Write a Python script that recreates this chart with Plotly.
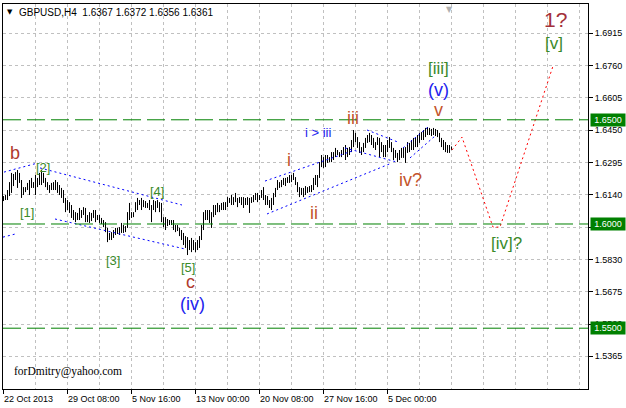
import plotly.graph_objects as go

# ---------------- data ----------------
highs = [
    1.6134, 1.6139, 1.6163, 1.6201, 1.6245, 1.6240, 1.6249, 1.6259, 1.6245, 1.6211,
    1.6177, 1.6177, 1.6197, 1.6211, 1.6221, 1.6201, 1.6235, 1.6221, 1.6245, 1.6259,
    1.6245, 1.6221, 1.6201, 1.6187, 1.6197, 1.6201, 1.6211, 1.6201, 1.6187, 1.6173,
    1.6163, 1.6125, 1.6115, 1.6105, 1.6091, 1.6067, 1.6057, 1.6053, 1.6077, 1.6067,
    1.6081, 1.6077, 1.6043, 1.6057, 1.6053, 1.6067, 1.6067, 1.6043, 1.6043, 1.6029,
    1.6019, 1.6009, 1.5981, 1.5957, 1.5961, 1.5971, 1.5981, 1.5981, 1.5985, 1.6005,
    1.5995, 1.5990, 1.6057, 1.6101, 1.6057, 1.6057, 1.6105, 1.6125, 1.6115, 1.6125,
    1.6115, 1.6110, 1.6101, 1.6115, 1.6091, 1.6115, 1.6110, 1.6115, 1.6105, 1.6101,
    1.6033, 1.6033, 1.6024, 1.6019, 1.6019, 1.6019, 1.5995, 1.5995, 1.5981, 1.5971,
    1.5957, 1.5942, 1.5937, 1.5923, 1.5933, 1.5923, 1.5913, 1.5923, 1.5942, 1.5995,
    1.6057, 1.6067, 1.6067, 1.6067, 1.6057, 1.6091, 1.6091, 1.6101, 1.6091, 1.6101,
    1.6105, 1.6105, 1.6129, 1.6125, 1.6139, 1.6129, 1.6149, 1.6125, 1.6129, 1.6129,
    1.6129, 1.6125, 1.6129, 1.6125, 1.6129, 1.6139, 1.6149, 1.6149, 1.6139, 1.6163,
    1.6177, 1.6139, 1.6134, 1.6115, 1.6125, 1.6149, 1.6173, 1.6211, 1.6201, 1.6211,
    1.6221, 1.6221, 1.6225, 1.6235, 1.6235, 1.6245, 1.6225, 1.6201, 1.6177, 1.6173,
    1.6173, 1.6182, 1.6177, 1.6182, 1.6187, 1.6221, 1.6235, 1.6235, 1.6297, 1.6331,
    1.6321, 1.6331, 1.6331, 1.6321, 1.6345, 1.6345, 1.6365, 1.6355, 1.6345, 1.6355,
    1.6369, 1.6379, 1.6365, 1.6369, 1.6403, 1.6451, 1.6437, 1.6417, 1.6393, 1.6369,
    1.6389, 1.6413, 1.6427, 1.6437, 1.6427, 1.6413, 1.6393, 1.6417, 1.6413, 1.6393,
    1.6379, 1.6379, 1.6403, 1.6417, 1.6393, 1.6365, 1.6355, 1.6341, 1.6355, 1.6365,
    1.6365, 1.6369, 1.6393, 1.6389, 1.6403, 1.6413, 1.6413, 1.6427, 1.6437, 1.6441,
    1.6451, 1.6461, 1.6465, 1.6461, 1.6456, 1.6461, 1.6456, 1.6451, 1.6437, 1.6413,
    1.6403, 1.6393, 1.6379, 1.6379, 1.6372,
]
lows = [
    1.6110, 1.6115, 1.6115, 1.6134, 1.6149, 1.6182, 1.6211, 1.6173, 1.6197, 1.6125,
    1.6139, 1.6153, 1.6163, 1.6139, 1.6173, 1.6173, 1.6139, 1.6177, 1.6187, 1.6187,
    1.6197, 1.6177, 1.6163, 1.6149, 1.6163, 1.6163, 1.6163, 1.6149, 1.6139, 1.6125,
    1.6101, 1.6057, 1.6067, 1.6053, 1.6029, 1.6019, 1.6009, 1.6019, 1.6019, 1.6029,
    1.6043, 1.6009, 1.6009, 1.6005, 1.6014, 1.6029, 1.6009, 1.6019, 1.6005, 1.6000,
    1.5985, 1.5961, 1.5913, 1.5923, 1.5923, 1.5933, 1.5947, 1.5952, 1.5947, 1.5957,
    1.5957, 1.5961, 1.5981, 1.6019, 1.6029, 1.6033, 1.6057, 1.6067, 1.6091, 1.6067,
    1.6081, 1.6077, 1.6077, 1.6067, 1.6009, 1.6067, 1.6057, 1.6077, 1.6057, 1.6009,
    1.5985, 1.5971, 1.5990, 1.5995, 1.5995, 1.5971, 1.5961, 1.5966, 1.5942, 1.5923,
    1.5899, 1.5885, 1.5851, 1.5875, 1.5865, 1.5875, 1.5865, 1.5875, 1.5885, 1.5923,
    1.5971, 1.6019, 1.6019, 1.6005, 1.5981, 1.6033, 1.6043, 1.6057, 1.6057, 1.6067,
    1.6067, 1.6067, 1.6081, 1.6101, 1.6091, 1.6091, 1.6105, 1.6081, 1.6101, 1.6091,
    1.6077, 1.6091, 1.6091, 1.6053, 1.6101, 1.6105, 1.6115, 1.6105, 1.6115, 1.6125,
    1.6115, 1.6091, 1.6091, 1.6077, 1.6067, 1.6091, 1.6129, 1.6163, 1.6173, 1.6177,
    1.6187, 1.6182, 1.6197, 1.6197, 1.6201, 1.6211, 1.6187, 1.6153, 1.6129, 1.6139,
    1.6129, 1.6139, 1.6149, 1.6153, 1.6153, 1.6163, 1.6187, 1.6177, 1.6221, 1.6273,
    1.6269, 1.6273, 1.6293, 1.6297, 1.6297, 1.6307, 1.6321, 1.6331, 1.6321, 1.6321,
    1.6331, 1.6307, 1.6321, 1.6331, 1.6345, 1.6369, 1.6393, 1.6365, 1.6341, 1.6331,
    1.6345, 1.6365, 1.6389, 1.6393, 1.6379, 1.6365, 1.6355, 1.6379, 1.6321, 1.6345,
    1.6321, 1.6321, 1.6345, 1.6365, 1.6345, 1.6307, 1.6317, 1.6297, 1.6307, 1.6317,
    1.6317, 1.6293, 1.6341, 1.6345, 1.6355, 1.6355, 1.6369, 1.6369, 1.6389, 1.6403,
    1.6403, 1.6417, 1.6427, 1.6427, 1.6422, 1.6427, 1.6422, 1.6417, 1.6393, 1.6369,
    1.6355, 1.6345, 1.6341, 1.6341, 1.6356,
]

x_tick_bars = [0, 32, 64, 96, 128, 160, 192]
x_tick_labels = ["22 Oct 2013", "29 Oct 08:00", "5 Nov 16:00", "13 Nov 00:00",
                 "20 Nov 08:00", "27 Nov 16:00", "5 Dec 00:00"]
y_tick_values = [1.6915, 1.6760, 1.6605, 1.6450, 1.6295, 1.6140,
                 1.5985, 1.5830, 1.5675, 1.5520, 1.5365]
level_prices = [1.6500, 1.6000, 1.5500]

forecast_bars = [224.25, 229.25, 244.75, 248.25, 274.75]
forecast_prices = [1.6355, 1.6417, 1.5985, 1.5985, 1.6758]

trend_bars = [
    (0.25, 17.25), (18.25, 89.25), (-0.25, 6.75), (25.75, 90.75),
    (130.75, 174.25), (131.75, 194.25), (181.75, 197.25), (170.75, 196.75),
    (199.75, 212.25), (203.25, 215.75),
]
trend_prices = [
    (1.6249, 1.6293), (1.6269, 1.6091), (1.5937, 1.5954), (1.6024, 1.5880),
    (1.6206, 1.6350), (1.6048, 1.6293), (1.6451, 1.6393), (1.6365, 1.6297),
    (1.6365, 1.6465), (1.6317, 1.6422),
]

wave_labels = ["b", "[2]", "[1]", "[3]", "[4]", "[5]", "c", "(iv)", "i", "ii", "iii",
               "i > iii", "iv?", "v", "(v)", "[iii]", "1?", "[v]", "[iv]?"]
wave_bars = [5.75, 19.75, 11.75, 54.75, 76.75, 92.25, 93.25, 94.25, 142.75, 155.25,
             174.75, 157.25, 203.25, 217.25, 217.25, 217.25, 275.75, 275.25, 251.25]
wave_prices = [1.6341, 1.6273, 1.6057, 1.5827, 1.6158, 1.5789, 1.5721, 1.5616, 1.6307,
               1.6053, 1.6509, 1.6437, 1.6211, 1.6547, 1.6643, 1.6744, 1.6979, 1.6864, 1.5904]

# ---------------- styles ----------------
FONT = "Liberation Sans"
BROWN = "#b03a2e"
ORANGE = "#c4532b"
GREEN_T = "#3a8a2a"
BLUE = "#2222ee"
wave_colors = [BROWN, GREEN_T, GREEN_T, GREEN_T, GREEN_T, GREEN_T, BROWN, BLUE,
               ORANGE, ORANGE, ORANGE, BLUE, ORANGE, ORANGE, BLUE, GREEN_T, "#a3303a",
               GREEN_T, GREEN_T]
wave_sizes = [18, 13, 13, 13, 13, 13, 18, 18, 18, 18, 18, 13, 18, 18, 18, 17, 21, 17, 17]

fig = go.Figure()

# OHLC bars drawn as vertical high-low segments
bx, by = [], []
for i, (h, l) in enumerate(zip(highs, lows)):
    bx += [i, i, None]
    by += [l, h, None]
fig.add_trace(go.Scatter(x=bx, y=by, mode="lines", line=dict(color="black", width=1),
                         hoverinfo="skip"))

# blue dotted trend lines
for (xa, xb), (ya, yb) in zip(trend_bars, trend_prices):
    fig.add_trace(go.Scatter(x=[xa, xb], y=[ya, yb], mode="lines",
                             line=dict(color="#0000ff", width=1, dash="2px,3px"),
                             hoverinfo="skip"))

# red dotted forecast
fig.add_trace(go.Scatter(x=forecast_bars, y=forecast_prices, mode="lines",
                         line=dict(color="#ff0000", width=1, dash="2px,3px"),
                         hoverinfo="skip"))

# green horizontal levels
for lv in level_prices:
    fig.add_shape(type="line", xref="paper", x0=0, x1=1, yref="y", y0=lv, y1=lv,
                  line=dict(color="#008000", width=1, dash="18px,6px"), layer="above")
    fig.add_annotation(xref="paper", x=1, xanchor="left", xshift=2, yref="y", y=lv,
                       text=f"{lv:.4f}", showarrow=False, bgcolor="#008000",
                       font=dict(family=FONT, size=9, color="white"),
                       width=34, height=12, borderpad=0)

# wave labels
for t, xb, yp, c, s in zip(wave_labels, wave_bars, wave_prices, wave_colors, wave_sizes):
    fig.add_annotation(x=xb, y=yp, text=t, showarrow=False,
                       font=dict(family=FONT, size=s, color=c),
                       xanchor="center", yanchor="middle")

# x tick labels (left aligned, as in the terminal)
for xb, lab in zip(x_tick_bars, x_tick_labels):
    fig.add_annotation(x=xb, xref="x", y=0, yref="paper", text=lab, showarrow=False,
                       xanchor="left", yanchor="top", xshift=-2, yshift=-3,
                       font=dict(family=FONT, size=9, color="black"))

# title
fig.add_annotation(xref="paper", yref="paper", x=0, y=1, xanchor="left", yanchor="top",
                   xshift=2, yshift=-2, text="▼", showarrow=False,
                   font=dict(family="DejaVu Sans", size=7, color="black"))
fig.add_annotation(xref="paper", yref="paper", x=0, y=1, xanchor="left", yanchor="top",
                   xshift=14, yshift=-1, text="GBPUSD,H4&nbsp; 1.6367 1.6372 1.6356 1.6361",
                   showarrow=False, font=dict(family=FONT, size=10, color="black"))
# small shift marker at top
fig.add_annotation(xref="x", yref="paper", x=222.75, y=1, yanchor="top", yshift=1,
                   text="▼", showarrow=False,
                   font=dict(family="DejaVu Sans", size=8, color="#b0b0b0"))
# signature
fig.add_annotation(xref="paper", yref="paper", x=0, y=0, xanchor="left", yanchor="bottom",
                   xshift=9, yshift=9, text="forDmitry@yahoo.com", showarrow=False,
                   font=dict(family="Liberation Serif", size=11.5, color="black"))

grid = dict(gridcolor="#c0c0c0", griddash="3px,3px", gridwidth=1)
fig.update_layout(
    width=626, height=408,
    margin=dict(l=3, r=38, t=4, b=19),
    paper_bgcolor="white", plot_bgcolor="white",
    showlegend=False,
    xaxis=dict(range=[-0.25, 292.25], tickmode="array", tickvals=x_tick_bars,
               showticklabels=False, ticks="outside", ticklen=4, tickcolor="black",
               showline=True, linecolor="black", linewidth=1, mirror=True,
               zeroline=False, showgrid=True, **grid,
               minor=dict(dtick=16, tick0=0, showgrid=True, ticks="", **grid)),
    yaxis=dict(range=[1.52082, 1.70556], side="right", tickmode="array",
               tickvals=y_tick_values, ticktext=[f"{v:.4f}" for v in y_tick_values],
               ticks="outside", ticklen=4, tickcolor="black",
               tickfont=dict(family=FONT, size=9, color="black"),
               showline=True, linecolor="black", linewidth=1, mirror=True,
               zeroline=False, showgrid=True, **grid),
)

fig.write_html("out.html", config={"displayModeBar": False},
               post_script="document.body.style.margin='0';document.body.style.padding='0';")
